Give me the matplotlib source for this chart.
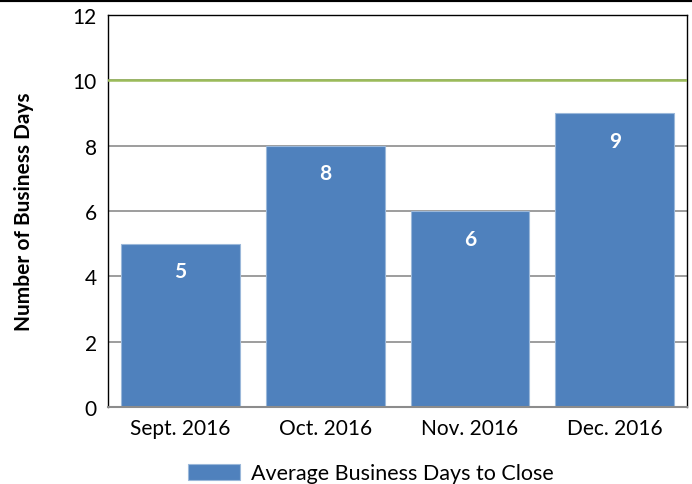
import matplotlib
matplotlib.use("Agg")
import matplotlib.pyplot as plt
from matplotlib.lines import Line2D

months = ["Sept. 2016", "Oct. 2016", "Nov. 2016", "Dec. 2016"]
days = [5, 8, 6, 9]
target = 10
series_name = "Average Business Days to Close"

plt.rcParams["font.family"] = ["Lato", "DejaVu Sans"]

fig = plt.figure(figsize=(6.92, 4.85), dpi=100)
ax = fig.add_axes([0.156, 0.159, 0.837, 0.808])

ax.set_axisbelow(True)
ax.yaxis.grid(True, color="#8c8c8c", linewidth=1.2)
bars = ax.bar(months, days, width=0.82, color="#4f81bd", edgecolor="#9bb8da",
              linewidth=0.8, label=series_name, zorder=2)
ax.axhline(target, color="#9bbb59", linewidth=1.8, zorder=3)

for rect, v in zip(bars, days):
    ax.text(rect.get_x() + rect.get_width() / 2, v - 0.85, str(v),
            ha="center", va="center", color="white", fontsize=15, fontweight="bold")

ax.set_ylim(0, 12)
ax.set_xlim(-0.5, 3.5)
ax.set_yticks(range(0, 13, 2))
ax.tick_params(axis="both", length=0, labelsize=15, pad=8)
ax.set_ylabel("Number of Business Days", fontsize=15, fontweight="bold", labelpad=28)
for side in ["top", "right", "left"]:
    ax.spines[side].set_color("black")
    ax.spines[side].set_linewidth(1)
ax.spines["bottom"].set_color("#8c8c8c")
ax.spines["bottom"].set_linewidth(1.5)

fig.legend(handles=[bars], labels=[series_name], loc="center", bbox_to_anchor=(0.536, 0.022),
           frameon=False, fontsize=15.5, handlelength=2.4, handleheight=0.8, handletextpad=0.5)

fig.add_artist(Line2D([0, 1], [0.997, 0.997], transform=fig.transFigure, color="black", linewidth=3))

fig.savefig("out.png", dpi=100)
